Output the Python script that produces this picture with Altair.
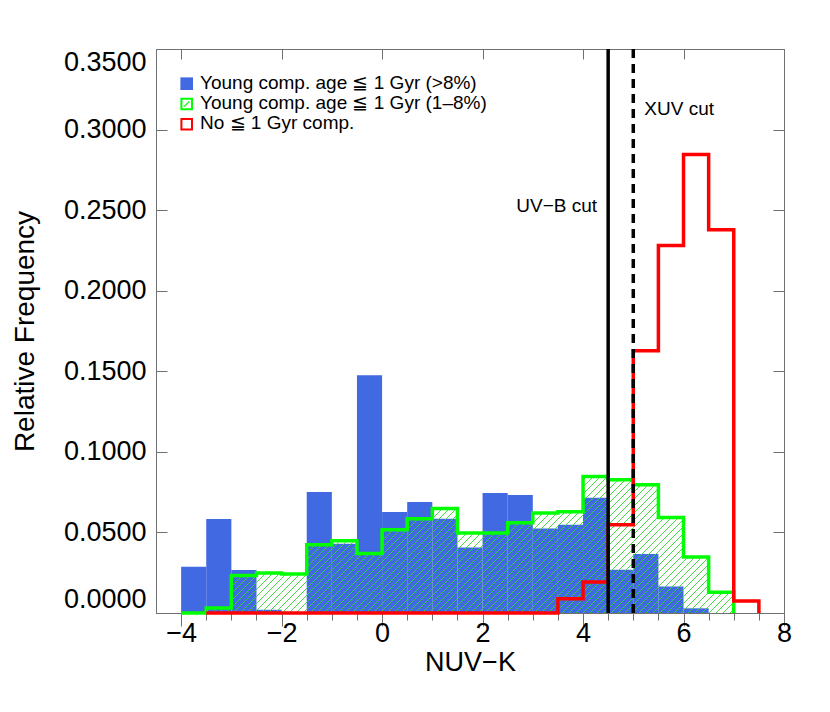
import altair as alt
import numpy as np
import pandas as pd

# ---------------- data ----------------
bin_width = 0.5
bin_left = [-4.0, -3.5, -3.0, -2.5, -2.0, -1.5, -1.0, -0.5, 0.0, 0.5, 1.0,
            1.5, 2.0, 2.5, 3.0, 3.5, 4.0, 4.5, 5.0, 5.5, 6.0, 6.5]
# Young comp. age <= 1 Gyr (>8%)  (blue filled)
young_high = [0.0287, 0.0583, 0.0267, 0.0020, 0.0000, 0.0751, 0.0430, 0.1476,
              0.0627, 0.0689, 0.0585, 0.0407, 0.0744, 0.0732, 0.0525, 0.0548,
              0.0715, 0.0269, 0.0366, 0.0165, 0.0029, 0.0000]
# Young comp. age <= 1 Gyr (1-8%)  (green hatched)
young_low = [0.0000, 0.0031, 0.0233, 0.0248, 0.0242, 0.0424, 0.0449, 0.0370,
             0.0517, 0.0585, 0.0649, 0.0496, 0.0496, 0.0560, 0.0620, 0.0628,
             0.0847, 0.0827, 0.0796, 0.0593, 0.0347, 0.0128]
# No <= 1 Gyr comp.  (red outline)
red_left = [-3.5, -3.0, -2.5, -2.0, -1.5, -1.0, -0.5, 0.0, 0.5, 1.0, 1.5,
            2.0, 2.5, 3.0, 3.5, 4.0, 4.5, 5.0, 5.5, 6.0, 6.5, 7.0]
no_young = [0.0000, 0.0000, 0.0000, 0.0000, 0.0000, 0.0000, 0.0000, 0.0000,
            0.0000, 0.0000, 0.0000, 0.0000, 0.0000, 0.0000, 0.0089, 0.0192,
            0.0548, 0.1627, 0.2280, 0.2845, 0.2378, 0.0074]

legend_labels = ["Young comp. age \u2266 1 Gyr (>8%)",
                 "Young comp. age \u2266 1 Gyr (1\u20138%)",
                 "No \u2266 1 Gyr comp."]
cut_values = [4.5, 5.0]
cut_labels = ["UV\u2212B cut", "XUV cut"]

x_major = [-4, -2, 0, 2, 4, 6, 8]
x_minor = [-4.0, -3.5, -3.0, -2.5, -2.0, -1.5, -1.0, -0.5, 0.0, 0.5, 1.0, 1.5,
           2.0, 2.5, 3.0, 3.5, 4.0, 4.5, 5.0, 5.5, 6.0, 6.5, 7.0, 7.5]
y_ticks = [0.0, 0.05, 0.10, 0.15, 0.20, 0.25, 0.30, 0.35]

# ---------------- layout / style ----------------
W, H = 628, 564
XD = [-4.5, 8.0]
YD = [0.0, 0.35]
FONT = "Liberation Sans"
AX = "#707070"
BLUE = "#4169E1"
GREEN = "#00FF00"
RED = "#FF0000"

xs = alt.Scale(domain=XD, nice=False, zero=False)
ys = alt.Scale(domain=YD, nice=False, zero=False)

# ---------------- tables ----------------
blue_df = pd.DataFrame({
    "x0": bin_left,
    "x1": [b + bin_width for b in bin_left],
    "y": young_high,
    "base": [0.0] * len(bin_left),
})

green_df = pd.DataFrame({
    "x": bin_left + [bin_left[-1] + bin_width],
    "y": young_low + [0.0],
})
red_df = pd.DataFrame({
    "x": red_left + [red_left[-1] + bin_width],
    "y": no_young + [0.0],
})

# hatch segments clipped to each green bin (45 degree lines in pixel space)
sx = W / (XD[1] - XD[0])
sy = H / (YD[1] - YD[0])
step = 7.0
hx, hy, hx2, hy2 = [], [], [], []
for left, h in zip(bin_left, young_low):
    if h <= 0:
        continue
    u0 = (left - XD[0]) * sx
    u1 = (left + bin_width - XD[0]) * sx
    hv = h * sy
    c = np.floor((u0 - hv) / step) * step
    while c < u1:
        lo = max(0.0, u0 - c)
        hi = min(hv, u1 - c)
        if hi > lo:
            hx.append((lo + c) / sx + XD[0])
            hy.append(lo / sy)
            hx2.append((hi + c) / sx + XD[0])
            hy2.append(hi / sy)
        c += step
hatch_df = pd.DataFrame({"hx": hx, "hy": hy, "hx2": hx2, "hy2": hy2})

# ---------------- layers ----------------
blue = alt.Chart(blue_df).mark_rect(color=BLUE).encode(
    x=alt.X("x0:Q", scale=xs, axis=alt.Axis(
        orient="bottom", values=x_major, format="d", tickSize=13, tickColor=AX,
        domainColor=AX, grid=False, labelFont=FONT, labelFontSize=27,
        labelColor="black", labelPadding=15, labelBaseline="alphabetic",
        labelFlush=False, title="NUV\u2212K", titleFont=FONT, titleFontSize=27,
        titleFontWeight="normal", titleColor="black", titleX=W / 2, titleY=57,
        titleBaseline="alphabetic")),
    x2="x1:Q",
    y=alt.Y("y:Q", scale=ys, axis=alt.Axis(
        orient="left", values=y_ticks, format=".4f", ticks=False, tickSize=0,
        domainColor=AX, grid=False, labelFont=FONT, labelFontSize=27,
        labelColor="black", labelPadding=10, labelFlush=True,
        labelFlushOffset=0, title="Relative Frequency", titleFont=FONT,
        titleFontSize=28, titleFontWeight="normal", titleColor="black",
        titleX=-123, titleY=H / 2, titleBaseline="alphabetic")),
    y2="base:Q",
)

hatch = alt.Chart(hatch_df).mark_rule(color="#2fd82f", strokeWidth=0.9).encode(
    x=alt.X("hx:Q", scale=xs, axis=alt.Axis(
        orient="bottom", values=x_minor, tickSize=7, tickColor=AX,
        labels=False, domain=False, grid=False, title=None)),
    x2="hx2:Q",
    y=alt.Y("hy:Q", scale=ys, axis=alt.Axis(
        orient="right", offset=-W, values=y_ticks, tickSize=11, tickColor=AX,
        labels=False, domain=False, grid=False, title=None)),
    y2="hy2:Q",
)

green = alt.Chart(green_df).mark_line(
    interpolate="step-after", color=GREEN, strokeWidth=3.5, strokeJoin="miter"
).encode(
    x=alt.X("x:Q", scale=xs, axis=alt.Axis(
        orient="bottom", offset=-H, values=x_major, tickSize=10, tickColor=AX,
        labels=False, domain=True, domainColor=AX, grid=False, title=None)),
    y=alt.Y("y:Q", scale=ys, axis=alt.Axis(
        orient="left", offset=-W, values=y_ticks, tickSize=11, tickColor=AX,
        labels=False, domain=True, domainColor=AX, grid=False, title=None)),
)

red = alt.Chart(red_df).mark_line(
    interpolate="step-after", color=RED, strokeWidth=3.5, strokeJoin="miter"
).encode(
    x=alt.X("x:Q", scale=xs, axis=None),
    y=alt.Y("y:Q", scale=ys, axis=None),
)

solid = alt.Chart(pd.DataFrame({"x": [cut_values[0]]})).mark_rule(
    color="black", strokeWidth=3.5).encode(x=alt.X("x:Q", scale=xs, axis=None))
dashed = alt.Chart(pd.DataFrame({"x": [cut_values[1]]})).mark_rule(
    color="black", strokeWidth=3.5, strokeDash=[9, 6]).encode(
    x=alt.X("x:Q", scale=xs, axis=None))

t_uvb = alt.Chart(pd.DataFrame({"x": [cut_values[0]], "t": [cut_labels[0]]})).mark_text(
    align="right", baseline="alphabetic", dx=-11, font=FONT, fontSize=19, color="black"
).encode(x=alt.X("x:Q", scale=xs, axis=None),
         y=alt.YDatum(0.249, scale=ys, axis=None), text="t:N")
t_xuv = alt.Chart(pd.DataFrame({"x": [cut_values[1]], "t": [cut_labels[1]]})).mark_text(
    align="left", baseline="alphabetic", dx=11, font=FONT, fontSize=19, color="black"
).encode(x=alt.X("x:Q", scale=xs, axis=None),
         y=alt.YDatum(0.309, scale=ys, axis=None), text="t:N")

# legend (manual, inside top-left)
leg_df = pd.DataFrame({"label": legend_labels, "i": [0, 1, 2]})
leg_base = alt.Chart(leg_df).transform_calculate(
    ty="39.7 + 20.3 * datum.i", sy="34.7 + 20.3 * datum.i")

leg_blue = leg_base.transform_filter("datum.i == 0").mark_square(
    color=BLUE, size=160, opacity=1).encode(
    x=alt.value(30.7), y=alt.Y("sy:Q", scale=None, axis=None))
leg_green = leg_base.transform_filter("datum.i == 1").mark_square(
    filled=False, color=GREEN, strokeWidth=2, size=112, opacity=1).encode(
    x=alt.value(30.7), y=alt.Y("sy:Q", scale=None, axis=None))
leg_green_diag = leg_base.transform_filter("datum.i == 1").mark_point(
    shape="M-0.5,0.5L0.5,-0.5", filled=False, color=GREEN, strokeWidth=1.3,
    size=112, opacity=1).encode(
    x=alt.value(30.7), y=alt.Y("sy:Q", scale=None, axis=None))
leg_red = leg_base.transform_filter("datum.i == 2").mark_square(
    filled=False, color=RED, strokeWidth=2, size=112, opacity=1).encode(
    x=alt.value(30.7), y=alt.Y("sy:Q", scale=None, axis=None))
leg_text = leg_base.mark_text(
    align="left", baseline="alphabetic", font=FONT, fontSize=19, color="black"
).encode(x=alt.value(44), y=alt.Y("ty:Q", scale=None, axis=None), text="label:N")

chart = alt.layer(
    blue, hatch, green, red, solid, dashed, t_uvb, t_xuv,
    leg_blue, leg_green, leg_green_diag, leg_red, leg_text,
).resolve_scale(x="shared", y="shared").resolve_axis(
    x="independent", y="independent"
).properties(
    width=W, height=H,
    autosize=alt.AutoSizeParams(type="none"),
    padding={"left": 148, "top": 41, "right": 30, "bottom": 90},
).configure_view(stroke=None).configure(font=FONT, background="white")

chart.save("out.html", embed_options={"renderer": "svg", "actions": False})
